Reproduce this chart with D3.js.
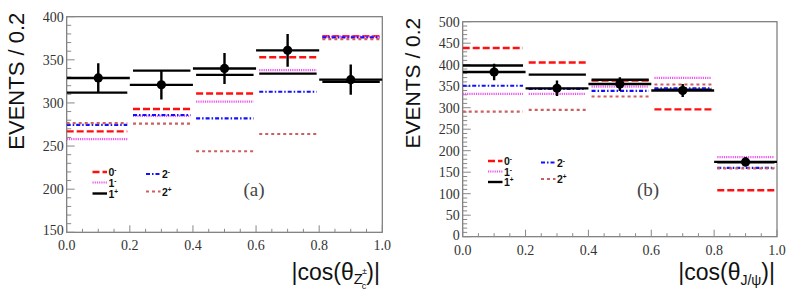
<!DOCTYPE html>
<html>
<head>
<meta charset="utf-8">
<script src="https://cdn.jsdelivr.net/npm/d3@7/dist/d3.min.js"></script>
<style>
  html, body { margin: 0; padding: 0; background: #fff; }
  svg { display: block; }
  .serif { font-family: "Liberation Serif", "Times New Roman", serif; }
  .sans { font-family: "Liberation Sans", Arial, sans-serif; }
</style>
</head>
<body>
<svg id="chart" width="789" height="297"></svg>
<script>
// ---------- data ----------
const binEdges = [0, 0.2, 0.4, 0.6, 0.8, 1.0];
const xTicks = [0, 0.2, 0.4, 0.6, 0.8, 1.0];
const hypotheses = ["0-", "1-", "1+", "2-", "2+"];

// panel (a): |cos(theta_Zc)|
const aYTicks = [150, 200, 250, 300, 350, 400];
const aData = [329, 321, 340, 361, 327];
const aErr  = [17, 17, 18, 19, 17.5];
const a0m = [267, 293, 311, 353, 377.5];
const a1m = [258, 285, 301.5, 338, 377];
const a1p = [312, 337.5, 332.5, 334, 324.5];
const a2m = [274.5, 286, 282, 313, 376];
const a2p = [276.5, 276, 244, 264, 374];

// panel (b): |cos(theta_J/psi)|
const bYTicks = [0, 50, 100, 150, 200, 250, 300, 350, 400, 450, 500];
const bData = [383, 345, 355, 340, 174];
const bErr  = [19, 18, 16, 15, 11];
const b0m = [439, 405, 363, 296, 108];
const b1m = [332, 332, 349, 369.5, 185];
const b1p = [398, 377, 365, 342, 173];
const b2m = [351, 344, 339, 345, 160];
const b2p = [291, 295, 326, 354, 159];

// ---------- styles ----------
const styles = {
  "0-": { color: "#ff1010", dash: "7,3", width: 2.4 },
  "1-": { color: "#ee55ee", dash: "1.2,1", width: 2.2 },
  "1+": { color: "#000000", dash: null, width: 2.4 },
  "2-": { color: "#1010ff", dash: "4,2,1.5,2", width: 2.2 },
  "2+": { color: "#cc6060", dash: "3,3", width: 2.2 }
};

const svg = d3.select("#chart");

function drawPanel(cfg) {
  const g = svg.append("g");
  const x = d3.scaleLinear().domain([0, 1]).range([cfg.x0, cfg.x1]);
  const y = d3.scaleLinear().domain(cfg.yDomain).range([cfg.y1, cfg.y0]);

  const clipId = "clip" + cfg.id;
  svg.append("clipPath").attr("id", clipId).append("rect")
    .attr("x", cfg.x0).attr("y", cfg.y0)
    .attr("width", cfg.x1 - cfg.x0).attr("height", cfg.y1 - cfg.y0);

  // frame
  g.append("rect")
    .attr("x", cfg.x0).attr("y", cfg.y0)
    .attr("width", cfg.x1 - cfg.x0).attr("height", cfg.y1 - cfg.y0)
    .attr("fill", "none").attr("stroke", "#777").attr("stroke-width", 1.2);

  // y ticks (inside)
  const yMinor = d3.range(cfg.yDomain[0], cfg.yDomain[1] + 0.001, cfg.yMinorStep);
  g.append("g").selectAll("line").data(yMinor).join("line")
    .attr("x1", cfg.x0).attr("x2", d => cfg.x0 + (cfg.yTicks.includes(d) ? 8 : 4.5))
    .attr("y1", d => y(d)).attr("y2", d => y(d))
    .attr("stroke", "#888").attr("stroke-width", 1);
  // x ticks (inside)
  const xMinor = d3.range(0, 1.0001, 0.05);
  g.append("g").selectAll("line").data(xMinor).join("line")
    .attr("x1", d => x(d)).attr("x2", d => x(d))
    .attr("y1", cfg.y1)
    .attr("y2", d => cfg.y1 - (xTicks.some(t => Math.abs(t - d) < 1e-6) ? 7 : 3.5))
    .attr("stroke", "#888").attr("stroke-width", 1);

  // y tick labels
  g.append("g").selectAll("text").data(cfg.yTicks).join("text")
    .attr("class", "serif")
    .attr("x", cfg.x0 - 3).attr("y", d => y(d) + (d === cfg.yDomain[0] ? 3 : 5))
    .attr("text-anchor", "end")
    .attr("font-size", 14).attr("fill", "#333")
    .text(d => d);
  // x tick labels
  g.append("g").selectAll("text").data(xTicks).join("text")
    .attr("class", "serif")
    .attr("x", d => x(d)).attr("y", cfg.y1 + 18)
    .attr("text-anchor", "middle")
    .attr("font-size", 14).attr("fill", "#333")
    .text(d => d3.format(".1f")(d));

  // model lines
  const lines = g.append("g").attr("clip-path", `url(#${clipId})`);
  hypotheses.forEach(h => {
    const st = styles[h];
    const vals = cfg.models[h];
    lines.append("g").selectAll("line").data(vals).join("line")
      .attr("x1", (d, i) => x(binEdges[i] + (i === 0 ? 0 : 0.01)))
      .attr("x2", (d, i) => x(binEdges[i + 1] - 0.008))
      .attr("y1", d => y(d)).attr("y2", d => y(d))
      .attr("stroke", st.color).attr("stroke-width", st.width)
      .attr("stroke-dasharray", st.dash);
  });

  // data points
  const dg = g.append("g").attr("clip-path", `url(#${clipId})`);
  cfg.data.forEach((v, i) => {
    const xc = (binEdges[i] + binEdges[i + 1]) / 2;
    dg.append("line")
      .attr("x1", x(binEdges[i])).attr("x2", x(binEdges[i + 1]))
      .attr("y1", y(v)).attr("y2", y(v))
      .attr("stroke", "#000").attr("stroke-width", 2.4);
    dg.append("line")
      .attr("x1", x(xc)).attr("x2", x(xc))
      .attr("y1", y(v - cfg.err[i])).attr("y2", y(v + cfg.err[i]))
      .attr("stroke", "#000").attr("stroke-width", 2.4);
    dg.append("circle")
      .attr("cx", x(xc)).attr("cy", y(v)).attr("r", 4.6)
      .attr("fill", "#000");
  });

  // y axis title
  g.append("text")
    .attr("class", "sans")
    .attr("transform", `translate(${cfg.yTitleX},${cfg.y0 - 4}) rotate(-90)`)
    .attr("text-anchor", "end")
    .attr("font-size", cfg.yTitleSize).attr("fill", "#111")
    .text("EVENTS / 0.2");

  // legend
  const leg = g.append("g");
  cfg.legend.forEach(L => {
    const st = styles[L.h];
    leg.append("line")
      .attr("x1", L.x).attr("x2", L.x + 14.5)
      .attr("y1", L.y).attr("y2", L.y)
      .attr("stroke", st.color).attr("stroke-width", st.width)
      .attr("stroke-dasharray", st.dash);
    const t = leg.append("text")
      .attr("class", "sans")
      .attr("x", L.x + 16).attr("y", L.y + 4)
      .attr("font-weight", "bold").attr("font-size", 10.5).attr("fill", "#111");
    t.append("tspan").text(L.h[0]);
    t.append("tspan").attr("dy", -4).attr("font-size", 6.5).text(L.h[1]);
  });

  // panel label
  g.append("text")
    .attr("class", "serif")
    .attr("x", cfg.labelX).attr("y", cfg.labelY)
    .attr("text-anchor", "middle")
    .attr("font-size", 19).attr("fill", "#444")
    .text(cfg.label);

  return g;
}

// panel (a)
drawPanel({
  id: "a", x0: 66.7, x1: 382.3, y0: 16.7, y1: 232.3,
  yDomain: [150, 400], yTicks: aYTicks, yMinorStep: 10,
  data: aData, err: aErr,
  models: { "0-": a0m, "1-": a1m, "1+": a1p, "2-": a2m, "2+": a2p },
  yTitleX: 24, yTitleSize: 22,
  legend: [
    { h: "0-", x: 92.5, y: 172 }, { h: "1-", x: 92.5, y: 182.5 }, { h: "1+", x: 92.5, y: 193.5 },
    { h: "2-", x: 146, y: 174 }, { h: "2+", x: 146, y: 191.5 }
  ],
  label: "(a)", labelX: 254, labelY: 196
});

// panel (b)
drawPanel({
  id: "b", x0: 462.7, x1: 777, y0: 21.7, y1: 236.7,
  yDomain: [0, 500], yTicks: bYTicks, yMinorStep: 10,
  data: bData, err: bErr,
  models: { "0-": b0m, "1-": b1m, "1+": b1p, "2-": b2m, "2+": b2p },
  yTitleX: 420, yTitleSize: 21,
  legend: [
    { h: "0-", x: 488, y: 161 }, { h: "1-", x: 488, y: 171.5 }, { h: "1+", x: 488, y: 182 },
    { h: "2-", x: 541, y: 162.5 }, { h: "2+", x: 541, y: 179 }
  ],
  label: "(b)", labelX: 648, labelY: 196
});

// x-axis titles
const tA = svg.append("text")
  .attr("class", "sans")
  .attr("x", 380).attr("y", 280)
  .attr("text-anchor", "end")
  .attr("font-size", 23).attr("fill", "#111");
tA.append("tspan").text("|cos(θ");
tA.append("tspan").attr("font-size", 15).attr("dy", 4).text("Z");
tA.append("tspan").attr("font-size", 9).attr("dx", -1).attr("dy", -10).text("±");
tA.append("tspan").attr("font-size", 9).attr("dx", -5).attr("dy", 15).text("c");
tA.append("tspan").attr("dy", -9).text(")|");

const tB = svg.append("text")
  .attr("class", "sans")
  .attr("x", 775).attr("y", 280)
  .attr("text-anchor", "end")
  .attr("font-size", 23).attr("fill", "#111");
tB.append("tspan").text("|cos(θ");
tB.append("tspan").attr("font-size", 14).attr("dy", 5).text("J/ψ");
tB.append("tspan").attr("dy", -5).text(")|");
</script>
</body>
</html>
